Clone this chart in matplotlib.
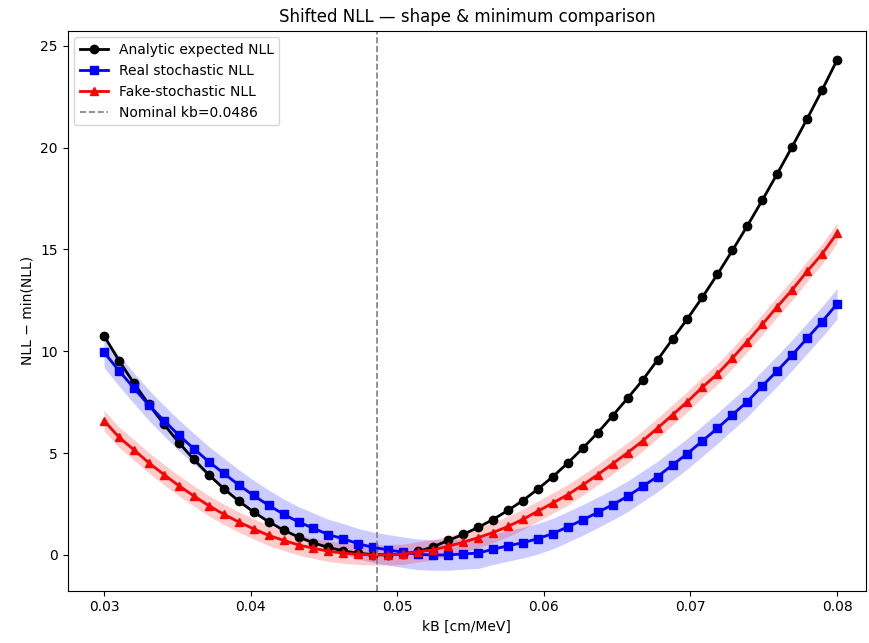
import numpy as np
import matplotlib
matplotlib.use('Agg')
import matplotlib.pyplot as plt

# kB scan (50 points between 0.03 and 0.08)
kb = np.linspace(0.03, 0.08, 50)
kb_nominal = 0.0486

analytic = [10.77, 9.54, 8.43, 7.39, 6.42, 5.52, 4.69, 3.94, 3.26, 2.65,
            2.11, 1.63, 1.22, 0.88, 0.59, 0.37, 0.20, 0.08, 0.02, 0.00,
            0.05, 0.17, 0.40, 0.71, 1.01, 1.35, 1.74, 2.19, 2.67, 3.24,
            3.84, 4.52, 5.24, 6.00, 6.84, 7.70, 8.58, 9.58, 10.60, 11.60,
            12.66, 13.78, 14.95, 16.16, 17.42, 18.72, 20.05, 21.42, 22.83, 24.31]

real_stoch = [9.95, 9.05, 8.19, 7.35, 6.60, 5.88, 5.22, 4.58, 4.01, 3.44,
              2.92, 2.44, 2.00, 1.62, 1.31, 1.00, 0.79, 0.55, 0.37, 0.25,
              0.13, 0.03, 0.00, 0.00, 0.05, 0.09, 0.28, 0.45, 0.60, 0.80,
              1.05, 1.38, 1.72, 2.09, 2.47, 2.88, 3.37, 3.85, 4.42, 4.98,
              5.60, 6.22, 6.88, 7.53, 8.30, 9.04, 9.82, 10.64, 11.46, 12.33]
real_std = 0.75

fake_stoch = [6.60, 5.78, 5.16, 4.52, 3.95, 3.40, 2.90, 2.42, 2.00, 1.62,
              1.28, 0.96, 0.72, 0.49, 0.33, 0.18, 0.09, 0.03, 0.00, 0.01,
              0.03, 0.16, 0.25, 0.43, 0.62, 0.85, 1.10, 1.40, 1.75, 2.15,
              2.55, 2.96, 3.44, 3.94, 4.48, 5.02, 5.60, 6.23, 6.88, 7.53,
              8.24, 8.89, 9.66, 10.48, 11.32, 12.19, 13.02, 13.93, 14.78, 15.80]
fake_std = 0.5

real_stoch = np.array(real_stoch)
fake_stoch = np.array(fake_stoch)

fig = plt.figure(figsize=(8.69, 6.43), dpi=100)
ax = fig.add_axes([0.0777, 0.0815, 0.919, 0.871])

ax.plot(kb, analytic, 'k-o', lw=2, ms=6, label='Analytic expected NLL')

ax.plot(kb, real_stoch, 'b-s', lw=2, ms=6, label='Real stochastic NLL')
ax.fill_between(kb, real_stoch - real_std, real_stoch + real_std, color='b', alpha=0.2, lw=0)

ax.plot(kb, fake_stoch, 'r-^', lw=2, ms=6, label='Fake-stochastic NLL')
ax.fill_between(kb, fake_stoch - fake_std, fake_stoch + fake_std, color='r', alpha=0.2, lw=0)

ax.axvline(kb_nominal, color='gray', ls='--', lw=1.2, label='Nominal kb=%.4f' % kb_nominal)

ax.set_xlim(0.02751, 0.08198)
ax.set_ylim(-1.75, 25.75)
ax.set_xticks([0.03, 0.04, 0.05, 0.06, 0.07, 0.08])
ax.set_yticks([0, 5, 10, 15, 20, 25])

ax.set_xlabel('kB [cm/MeV]')
ax.set_ylabel('NLL \u2212 min(NLL)')
ax.set_title('Shifted NLL \u2014 shape & minimum comparison')
ax.legend(loc='upper left')

fig.savefig('out.png', dpi=100)
